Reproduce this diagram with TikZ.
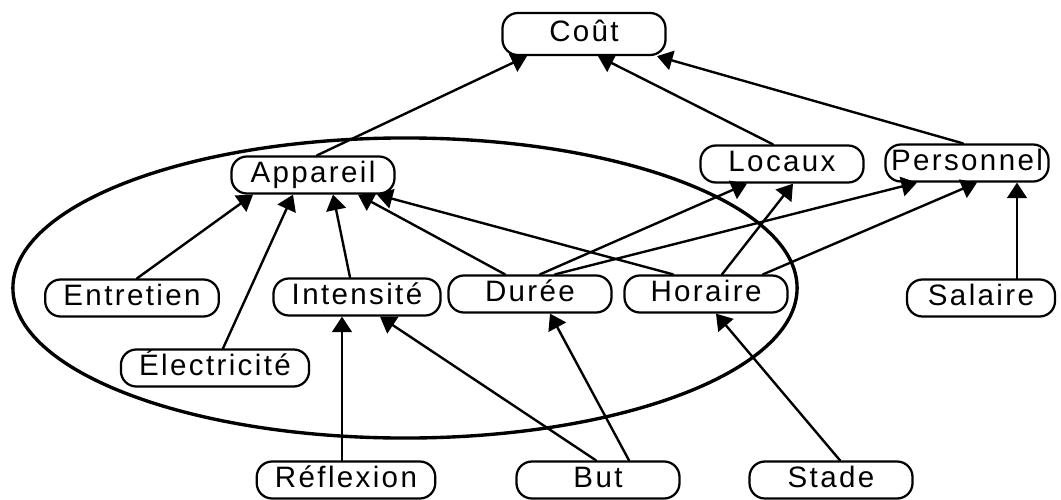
\documentclass[tikz,border=0pt]{standalone}
\usepackage{fontspec}
\setmainfont{Liberation Sans}[LetterSpace=8]
\usetikzlibrary{arrows.meta,calc}

\begin{document}
\begin{tikzpicture}[x=0.025cm,y=-0.025cm,line join=round,line cap=round,
  font=\fontsize{21pt}{25pt}\selectfont,
  box/.style={draw,line width=1.6pt,rounded corners=11pt,minimum width=4.075cm,
    minimum height=0.925cm,inner xsep=13pt,inner ysep=0pt,text height=15pt,text depth=4pt},
  edge/.style={line width=1.7pt,-{Triangle[length=11pt,width=14pt]}}]
\useasboundingbox (0,0) rectangle (1061,500);
% nodes
\node[box,minimum height=1.05cm] (cout) at (584,34) {Coût};
\node[box] (app) at (313,175) {Appareil};
\node[box] (loc) at (782,164) {Locaux};
\node[box,inner xsep=3pt] (per) at (967,163) {Personnel};
\node[box] (ent) at (132,298) {Entretien};
\node[box] (int) at (357,297) {Intensité};
\node[box] (dur) at (530,294) {Durée};
\node[box] (hor) at (706,294) {Horaire};
\node[box,minimum width=3.7cm] (sal) at (981,298) {Salaire};
\node[box] (ele) at (215,368) {Électricité};
\node[box] (ref) at (346,480) {Réflexion};
\node[box] (but) at (598,480) {But};
\node[box] (sta) at (831,480) {Stade};
% ellipse
\draw[line width=2.4pt] (405,288) ellipse [x radius=9.8cm, y radius=3.75cm];
% arrows
\foreach \a/\da/\b/\db in {app/4/cout/-57, loc/-9/cout/14, per/-4/cout/73,
    ent/5/app/-60, ele/8/app/-20, int/-7/app/20, dur/-25/app/45, hor/-33/app/64,
    dur/10/loc/-35, dur/25/per/-50, hor/16/loc/11, hor/57/per/10, sal/36/per/50,
    ref/-4/int/-15, but/-2/int/23, but/31/dur/20, sta/9/hor/10}
  \draw[edge] ($(\a.north)+(\da,0)$) -- ($(\b.south)+(\db,0)$);
\end{tikzpicture}
\end{document}
